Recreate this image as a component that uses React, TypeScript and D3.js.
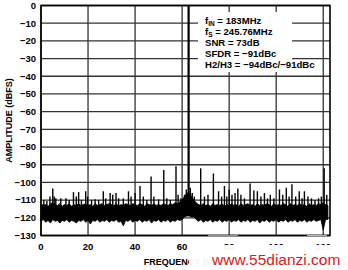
import React from "react";
import * as d3 from "d3";

const yTicks = [0, -10, -20, -30, -40, -50, -60, -70, -80, -90, -100, -110, -120, -130];
const xTicks = [0, 20, 40, 60, 80, 100, 120];

const noiseTop = [
  -112, -113, -112.5, -113.5, -112, -111.5, -112.5, -113, -112, -113.5,
  -112.5, -113, -112, -113.5, -112.5, -113, -112, -113, -112.5, -112,
  -113, -112.5, -113.5, -112, -113, -112.5, -112, -113, -112.5, -112,
  -112.5, -113, -112, -113.5, -112.5, -113, -112, -112.5, -113, -112,
  -112.5, -113, -112, -112.5, -113.5, -112, -112.5, -113, -112, -113,
  -112.5, -113, -112, -112.5, -113, -112, -112.5, -111.5, -112, -111,
  -110, -108, -106, -106, -108, -110, -111.5, -112.5, -113, -112,
  -113, -112.5, -113.5, -112, -113, -112.5, -113, -112, -113.5, -112.5,
  -113, -112, -113, -112.5, -113.5, -112, -113, -112.5, -112, -113,
  -112.5, -113.5, -112, -113, -112.5, -113, -112, -112.5, -113.5, -112,
  -113, -112.5, -113, -112, -112.5, -113.5, -112, -113, -112.5, -113,
  -112, -113, -112.5, -113.5, -112, -113, -112.5, -113, -112, -112.5,
  -111.5, -112.5, -113,
];

const noiseBottom = [
  -122, -121, -122.5, -121.5, -123, -121, -122, -121.5, -123, -121.5,
  -122, -121, -122.5, -121.5, -122, -123, -121.5, -122, -121, -122.5,
  -121.5, -123.5, -121.5, -122, -121, -122.5, -121.5, -122, -121, -122.5,
  -121.5, -122, -121, -122.5, -122, -124.5, -121.5, -122, -121, -122.5,
  -121.5, -122, -121, -122.5, -121.5, -122, -121, -123, -121.5, -122,
  -121, -122.5, -121.5, -122, -121, -122.5, -121.5, -122, -121, -121.5,
  -121, -119.5, -119, -119, -119.5, -119.5, -121, -122, -121, -122.5,
  -121.5, -122, -121, -122.5, -121.5, -122, -121, -122.5, -121.5, -122,
  -121, -122.5, -121.5, -122, -121, -122.5, -121.5, -122, -121, -122.5,
  -121.5, -122, -121, -123, -121.5, -122, -121, -122.5, -121.5, -122,
  -121, -122.5, -121.5, -122, -121, -122.5, -121.5, -122, -121, -122.5,
  -121.5, -122, -121, -122.5, -121.5, -122, -121, -122, -121.5, -121,
  -127, -121, -121,
];

const spurFreqs = [
  1.2, 2.5, 3.8, 5.0, 5.6, 6.3, 8.4, 10.6, 12.0, 13.8, 15.0, 16.0, 17.2, 19.0, 19.8,
  21.5, 23.0, 24.5, 26.5, 27.5, 29.4, 30.5, 31.9, 33.0, 35.0, 37.2, 38.3, 40.0, 42.1,
  43.5, 45.0, 46.8, 48.0, 50.0, 52.2, 53.5, 55.0, 57.4, 58.3, 59.5,
  61.0, 61.8, 63.5, 64.3, 65.2,
  67.9, 69.5, 71.0, 73.3, 75.5, 76.8, 78.0, 79.0, 80.0, 81.2, 82.5, 83.7, 85.0, 86.5,
  88.9, 90.5, 92.0, 93.5, 95.0, 96.3, 97.5, 99.0, 101.4, 102.8, 104.3, 105.5, 106.7,
  108.3, 109.8, 111.0, 112.0, 113.5, 115.0, 116.5, 118.0, 119.2, 120.4, 121.5,
];
const spurLevels = [
  -110, -110.5, -108, -103.5, -108, -109, -109, -109, -110, -105.5, -108, -105.5, -110, -105, -108,
  -110, -109.5, -110, -105, -109, -106, -107, -106, -109, -109, -105, -108, -106, -102,
  -108, -110, -96.6, -108, -109.5, -93, -109, -110, -90.8, -107, -109,
  -107, -104, -103, -106, -108,
  -92, -108, -107, -95, -105, -108, -102, -108, -104, -107, -106, -103.5, -107, -109,
  -100.6, -104.6, -105, -108, -106, -109, -107, -109, -104, -107, -103, -108, -101,
  -108, -105, -109, -105, -108, -109, -110, -109, -108, -92, -107,
];

const fundamentalFreq = 62.76;
const fundamentalLevel = -0.3;

const infoLines = [
  { main: "f", sub: "IN", rest: " = 183MHz" },
  { main: "f", sub: "S", rest: " = 245.76MHz" },
  { main: "SNR = 73dB", sub: "", rest: "" },
  { main: "SFDR = \u221291dBc", sub: "", rest: "" },
  { main: "H2/H3 = \u221294dBc/\u221291dBc", sub: "", rest: "" },
];

const fmt = (v: number) => (v < 0 ? "\u2212" + Math.abs(v) : String(v));

export default function App() {
  const W = 348, H = 270;
  const left = 41, right = 330, top = 5.5, bottom = 235.5;
  const x = d3.scaleLinear().domain([0, 122.88]).range([left, right]);
  const y = d3.scaleLinear().domain([-130, 0]).range([bottom, top]);

  const bandData = noiseTop.map((t, i) => ({
    f: Math.min(i, 122.88),
    t,
    b: noiseBottom[i],
  }));
  const area = d3
    .area<{ f: number; t: number; b: number }>()
    .x((d) => x(d.f))
    .y0((d) => y(d.b))
    .y1((d) => y(d.t));

  const font = "'Liberation Sans', Arial, sans-serif";

  return (
    <svg
      width={W}
      height={H}
      style={{ position: "absolute", left: 0, top: 0, background: "#fff" }}
      fontFamily={font}
    >
      <rect x={0} y={0} width={W} height={H} fill="#fff" />
      {/* grid */}
      {yTicks.map((t) => (
        <line key={"gy" + t} x1={left} x2={right} y1={y(t)} y2={y(t)} stroke="#333" strokeWidth={1.3} />
      ))}
      {xTicks.map((t) => (
        <line key={"gx" + t} x1={x(t)} x2={x(t)} y1={top} y2={bottom} stroke="#333" strokeWidth={1.3} />
      ))}
      {/* text box background */}
      <rect x={198} y={12} width={94} height={60} fill="#fff" />
      {/* noise band */}
      <path d={area(bandData) || ""} fill="#000" stroke="#000" strokeWidth={0.8} />
      {spurFreqs.map((f, i) => (
        <line
          key={"s" + i}
          x1={x(f)}
          x2={x(f)}
          y1={y(-114)}
          y2={y(spurLevels[i])}
          stroke="#000"
          strokeWidth={1.4}
        />
      ))}
      <line
        x1={x(fundamentalFreq)}
        x2={x(fundamentalFreq)}
        y1={y(-112)}
        y2={y(fundamentalLevel)}
        stroke="#000"
        strokeWidth={2.2}
      />
      {/* frame */}
      <rect x={left} y={top} width={right - left} height={bottom - top} fill="none" stroke="#000" strokeWidth={1.6} />
      {/* y tick labels */}
      {yTicks.map((t) => (
        <text
          key={"ly" + t}
          x={36}
          y={y(t)}
          dy="0.35em"
          textAnchor="end"
          fontSize={9.5}
          fontWeight="bold"
          fill="#000"
        >
          {fmt(t)}
        </text>
      ))}
      {xTicks.map((t) => (
        <text
          key={"lx" + t}
          x={x(t)}
          y={246.5}
          dy="0.35em"
          textAnchor="middle"
          fontSize={9.5}
          fontWeight="bold"
          fill="#000"
        >
          {fmt(t)}
        </text>
      ))}
      {/* axis titles */}
      <text
        transform={`translate(9,${(top + bottom) / 2}) rotate(-90)`}
        textAnchor="middle"
        dy="0.35em"
        fontSize={9}
        fontWeight="bold"
      >
        AMPLITUDE (dBFS)
      </text>
      <text x={(left + right) / 2} y={262} dy="0.35em" textAnchor="middle" fontSize={9} fontWeight="bold">
        FREQUENCY (MHz)
      </text>
      {/* info text */}
      {infoLines.map((l, i) => (
        <text key={"i" + i} x={205} y={24 + i * 10.9} fontSize={9.6} fontWeight="bold" fill="#000">
          {l.main}
          {l.sub && (
            <tspan fontSize={6.5} dy={2}>
              {l.sub}
            </tspan>
          )}
          {l.rest && <tspan dy={l.sub ? -2 : 0}>{l.rest}</tspan>}
        </text>
      ))}
      {/* watermark */}
      <rect x={189} y={245} width={159} height={25} fill="#fff" opacity={0.95} />
      <line x1={208} x2={238} y1={235.5} y2={235.5} stroke="#e07070" strokeWidth={1} />
      <line x1={307} x2={327} y1={235.5} y2={235.5} stroke="#e0a0a0" strokeWidth={1} />
      <text x={212} y={265} fontSize={15.5} fill="#d42020" fontFamily={font}>
        www.55dianzi.com
      </text>
    </svg>
  );
}
